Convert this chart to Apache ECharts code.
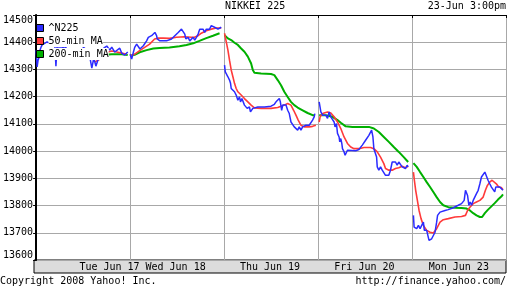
<!DOCTYPE html>
<html><head><meta charset="utf-8">
<script src="https://cdn.jsdelivr.net/npm/echarts@6/dist/echarts.min.js"></script>
<style>html,body{margin:0;padding:0;background:#fff}#c{width:512px;height:288px}</style>
</head><body><div id="c"></div>
<script>
// x = trading day index + fraction of that day's session (0 = Tue Jun 17 open)
const dayLabels = ['Tue Jun 17', 'Wed Jun 18', 'Thu Jun 19', 'Fri Jun 20', 'Mon Jun 23'];
const dayLabelAt = [0.8, 1.5, 2.5, 3.5, 4.5];
const seriesNames = ['^N225', '50-min MA', '200-min MA'];

const n225 = [
  [[0.000,14371],[0.011,14309],[0.021,14334],[0.032,14345],[0.042,14371],[0.053,14382],[0.064,14390],[0.117,14401],[0.169,14393],[0.200,14384],[0.211,14312],[0.222,14382],[0.275,14382],[0.307,14378],[0.339,14390],[0.381,14397],[0.434,14393],[0.487,14386],[0.540,14371],[0.572,14345],[0.593,14305],[0.614,14342],[0.636,14312],[0.657,14334],[0.678,14349],[0.699,14364],[0.720,14378],[0.752,14386],[0.784,14371],[0.805,14382],[0.837,14364],[0.858,14371],[0.890,14378],[0.911,14360],[0.943,14353],[0.975,14364]],
  [[1.000,14356],[1.017,14338],[1.035,14363],[1.049,14381],[1.070,14393],[1.088,14387],[1.105,14375],[1.123,14381],[1.141,14387],[1.158,14393],[1.176,14405],[1.194,14418],[1.211,14424],[1.229,14424],[1.247,14430],[1.264,14436],[1.282,14424],[1.289,14412],[1.300,14405],[1.317,14405],[1.388,14405],[1.441,14412],[1.476,14424],[1.512,14436],[1.529,14442],[1.547,14448],[1.565,14442],[1.582,14430],[1.593,14412],[1.618,14418],[1.635,14405],[1.653,14412],[1.671,14418],[1.688,14408],[1.706,14418],[1.724,14430],[1.741,14448],[1.758,14442],[1.776,14448],[1.794,14436],[1.811,14448],[1.829,14455],[1.846,14448],[1.864,14461],[1.882,14455],[1.899,14455],[1.917,14461],[1.935,14448],[1.952,14455],[1.970,14455]],
  [[2.005,14316],[2.013,14291],[2.023,14285],[2.041,14273],[2.058,14261],[2.069,14249],[2.076,14230],[2.094,14224],[2.111,14218],[2.129,14206],[2.147,14187],[2.164,14199],[2.175,14181],[2.190,14193],[2.200,14187],[2.217,14169],[2.235,14175],[2.246,14157],[2.260,14150],[2.270,14162],[2.281,14144],[2.296,14138],[2.306,14157],[2.317,14162],[2.359,14162],[2.429,14162],[2.500,14165],[2.535,14172],[2.553,14181],[2.571,14177],[2.588,14193],[2.599,14181],[2.613,14150],[2.624,14169],[2.642,14169],[2.659,14169],[2.677,14150],[2.694,14138],[2.712,14107],[2.730,14101],[2.747,14089],[2.765,14095],[2.783,14077],[2.800,14089],[2.818,14077],[2.836,14089],[2.853,14083],[2.871,14095],[2.889,14089],[2.906,14095],[2.924,14101],[2.942,14114],[2.959,14126],[2.966,14138]],
  [[3.012,14181],[3.022,14177],[3.030,14144],[3.048,14132],[3.065,14126],[3.083,14132],[3.101,14120],[3.118,14144],[3.136,14126],[3.154,14132],[3.171,14107],[3.181,14089],[3.189,14083],[3.196,14101],[3.207,14065],[3.224,14052],[3.231,14034],[3.242,14046],[3.253,14028],[3.260,14009],[3.277,13997],[3.288,13985],[3.302,13991],[3.313,14003],[3.330,14003],[3.400,14001],[3.435,14006],[3.471,14022],[3.506,14040],[3.541,14058],[3.570,14077],[3.584,14052],[3.594,14009],[3.612,14003],[3.623,13978],[3.630,13942],[3.647,13930],[3.665,13942],[3.683,13930],[3.700,13923],[3.718,13911],[3.736,13917],[3.753,13911],[3.771,13930],[3.789,13960],[3.806,13966],[3.824,13960],[3.842,13948],[3.859,13960],[3.877,13954],[3.895,13942],[3.912,13948],[3.930,13936],[3.948,13948],[3.959,13942]],
  [[4.015,13764],[4.022,13721],[4.033,13727],[4.050,13715],[4.068,13727],[4.086,13715],[4.103,13727],[4.121,13739],[4.131,13709],[4.156,13709],[4.174,13702],[4.181,13672],[4.192,13666],[4.209,13678],[4.227,13690],[4.245,13702],[4.262,13739],[4.272,13764],[4.298,13776],[4.315,13782],[4.351,13782],[4.386,13785],[4.439,13792],[4.492,13801],[4.527,13807],[4.555,13819],[4.569,13856],[4.580,13862],[4.591,13837],[4.605,13801],[4.619,13813],[4.633,13801],[4.651,13819],[4.669,13825],[4.686,13844],[4.704,13856],[4.722,13880],[4.739,13905],[4.757,13911],[4.775,13923],[4.792,13917],[4.809,13893],[4.827,13880],[4.845,13868],[4.862,13862],[4.880,13850],[4.891,13868],[4.908,13862],[4.933,13868],[4.950,13868],[4.968,13856]]
];

const ma50 = [
  [[0.625,14327],[0.657,14334],[0.699,14342],[0.731,14353],[0.763,14364],[0.805,14368],[0.858,14364],[0.911,14360],[0.964,14356]],
  [[1.000,14350],[1.049,14356],[1.102,14369],[1.155,14381],[1.208,14393],[1.261,14412],[1.300,14415],[1.353,14415],[1.419,14414],[1.494,14418],[1.578,14420],[1.653,14418],[1.684,14418],[1.724,14424],[1.758,14433],[1.811,14442],[1.864,14448],[1.917,14452],[1.970,14452]],
  [[2.005,14433],[2.023,14402],[2.041,14371],[2.058,14334],[2.076,14298],[2.094,14273],[2.111,14249],[2.129,14230],[2.147,14218],[2.182,14206],[2.217,14193],[2.253,14181],[2.288,14169],[2.323,14159],[2.394,14157],[2.500,14157],[2.571,14160],[2.641,14169],[2.677,14175],[2.712,14169],[2.740,14150],[2.765,14132],[2.789,14114],[2.818,14095],[2.853,14089],[2.906,14089],[2.942,14091],[2.977,14095]],
  [[3.012,14107],[3.022,14126],[3.040,14136],[3.065,14140],[3.101,14144],[3.136,14140],[3.171,14126],[3.207,14107],[3.242,14083],[3.277,14052],[3.313,14028],[3.348,14015],[3.383,14009],[3.436,14009],[3.489,14013],[3.559,14013],[3.594,14009],[3.630,13997],[3.665,13978],[3.700,13954],[3.718,13936],[3.753,13930],[3.789,13930],[3.824,13936],[3.859,13939],[3.895,13944],[3.930,13939],[3.959,13944]],
  [[4.015,13923],[4.025,13893],[4.039,13856],[4.057,13819],[4.075,13782],[4.096,13752],[4.121,13727],[4.156,13709],[4.192,13702],[4.227,13699],[4.262,13715],[4.298,13739],[4.333,13748],[4.386,13752],[4.457,13758],[4.527,13760],[4.569,13764],[4.591,13782],[4.616,13794],[4.651,13807],[4.686,13813],[4.722,13819],[4.757,13831],[4.781,13856],[4.802,13874],[4.827,13886],[4.852,13893],[4.873,13890],[4.897,13880],[4.922,13868],[4.950,13866],[4.968,13858]]
];

const ma200 = [
  [[0.699,14353],[0.805,14356],[0.911,14356],[0.975,14353]],
  [[1.000,14350],[1.049,14354],[1.102,14363],[1.176,14371],[1.247,14377],[1.314,14379],[1.419,14381],[1.525,14385],[1.600,14390],[1.671,14396],[1.738,14405],[1.811,14415],[1.882,14424],[1.952,14433]],
  [[2.005,14426],[2.041,14414],[2.076,14408],[2.111,14398],[2.147,14390],[2.182,14377],[2.217,14365],[2.253,14347],[2.288,14322],[2.306,14298],[2.323,14288],[2.394,14285],[2.500,14283],[2.535,14279],[2.571,14261],[2.606,14242],[2.641,14218],[2.677,14199],[2.712,14181],[2.747,14169],[2.783,14160],[2.836,14150],[2.889,14140],[2.942,14132],[2.959,14132]],
  [[3.012,14132],[3.083,14132],[3.154,14126],[3.207,14114],[3.242,14104],[3.294,14091],[3.365,14089],[3.541,14089],[3.594,14083],[3.647,14070],[3.700,14052],[3.753,14034],[3.806,14015],[3.859,13997],[3.912,13978],[3.959,13960]],
  [[4.015,13956],[4.050,13942],[4.086,13923],[4.121,13905],[4.156,13886],[4.192,13868],[4.227,13850],[4.262,13831],[4.298,13813],[4.333,13801],[4.386,13794],[4.457,13792],[4.527,13791],[4.580,13789],[4.616,13782],[4.651,13772],[4.686,13764],[4.722,13758],[4.746,13758],[4.775,13772],[4.809,13785],[4.845,13797],[4.880,13809],[4.915,13822],[4.950,13833],[4.968,13841]]
];

function joinDays(days) {
  const out = [];
  days.forEach((d, i) => { if (i) out.push([i, '-']); d.forEach(p => out.push(p)); });
  return out;
}

const FONT = 'DejaVu Sans Mono';
const txt = { fontFamily: FONT, fontSize: 10, color: '#000', fontWeight: 'normal' };
const GRID = '#a8a8a8';
const COLORS = ['#2b2bff', '#ff3a3a', '#00b000'];

const chart = echarts.init(document.getElementById('c'), null, { renderer: 'canvas' });
chart.setOption({
  animation: false,
  backgroundColor: '#fff',
  title: [
    { text: 'NIKKEI 225', left: 225, top: 1, padding: 0, textStyle: txt },
    { text: '23-Jun 3:00pm', right: 6, top: 1, padding: 0, textStyle: txt },
    { text: 'Copyright 2008 Yahoo! Inc.', left: 0, top: 276, padding: 0, textStyle: txt },
    { text: 'http://finance.yahoo.com/', right: 6, top: 276, padding: 0, textStyle: txt }
  ],
  legend: {
    data: seriesNames, orient: 'vertical', left: 36, top: 22, padding: 0, z: 10,
    itemWidth: 7, itemHeight: 7, itemGap: 1, icon: 'rect',
    itemStyle: { borderColor: '#000', borderWidth: 1 },
    textStyle: Object.assign({}, txt, { lineHeight: 12, backgroundColor: '#fff' })
  },
  grid: [
    { left: 34, right: 6, top: 15, height: 245, show: false },
    { left: 34, right: 6, top: 260, height: 13, show: true, backgroundColor: '#dcdcdc', borderColor: '#000', borderWidth: 1 }
  ],
  xAxis: [
    { gridIndex: 0, type: 'value', min: 0, max: 5, interval: 1,
      axisLine: { show: false }, axisTick: { show: false }, axisLabel: { show: false },
      splitLine: { show: true, lineStyle: { color: GRID, width: 1 } } },
    { gridIndex: 0, type: 'value', position: 'top', min: 0, max: 5, interval: 1,
      axisLine: { show: true, lineStyle: { color: '#000', width: 1 } },
      axisTick: { show: true, inside: true, length: 3, lineStyle: { color: '#000' } },
      axisLabel: { show: false }, splitLine: { show: false } },
    { gridIndex: 1, type: 'value', position: 'bottom', min: 0, max: 5,
      axisLine: { show: false }, axisTick: { show: false }, splitLine: { show: false },
      axisLabel: Object.assign({}, txt, {
        inside: true, margin: 1, customValues: dayLabelAt,
        formatter: v => {
          let best = 0;
          dayLabelAt.forEach((p, i) => { if (Math.abs(p - v) < Math.abs(dayLabelAt[best] - v)) best = i; });
          return dayLabels[best];
        }
      }) }
  ],
  yAxis: [
    { gridIndex: 0, type: 'value', min: 13600, max: 14500, interval: 100,
      axisLine: { show: true, lineStyle: { color: '#000', width: 2 } },
      axisTick: { show: false },
      axisLabel: Object.assign({}, txt, { margin: 3, formatter: v => String(v),
        verticalAlignMaxLabel: 'top', verticalAlignMinLabel: 'bottom' }),
      splitLine: { show: true, lineStyle: { color: GRID, width: 1 } } },
    { gridIndex: 0, type: 'value', position: 'right', min: 13600, max: 14500, interval: 100,
      axisLine: { show: true, lineStyle: { color: '#000', width: 1 } },
      axisTick: { show: true, inside: true, length: 3, lineStyle: { color: '#000' } },
      axisLabel: { show: false }, splitLine: { show: false } },
    { gridIndex: 1, type: 'value', show: false }
  ],
  series: [
    { name: seriesNames[2], type: 'line', xAxisIndex: 0, yAxisIndex: 0, data: joinDays(ma200),
      showSymbol: false, symbol: 'none', color: COLORS[2], lineStyle: { width: 2, color: COLORS[2] }, z: 2 },
    { name: seriesNames[1], type: 'line', xAxisIndex: 0, yAxisIndex: 0, data: joinDays(ma50),
      showSymbol: false, symbol: 'none', color: COLORS[1], lineStyle: { width: 1.6, color: COLORS[1] }, z: 2 },
    { name: seriesNames[0], type: 'line', xAxisIndex: 0, yAxisIndex: 0, data: joinDays(n225),
      showSymbol: false, symbol: 'none', color: COLORS[0], lineStyle: { width: 1.5, color: COLORS[0] }, z: 2 }
  ]
});
</script>
</body></html>
